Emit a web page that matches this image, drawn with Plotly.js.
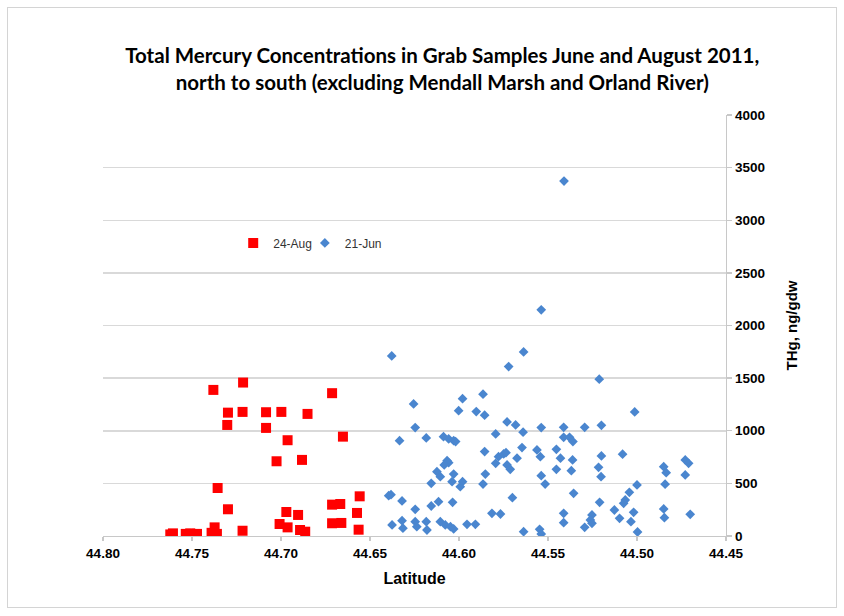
<!DOCTYPE html>
<html>
<head>
<meta charset="utf-8">
<script src="https://cdn.plot.ly/plotly-3.0.1.min.js"></script>
<style>
  html, body { margin: 0; padding: 0; background: #fff; }
  #wrap { position: relative; width: 844px; height: 616px; }
  #chart { width: 844px; height: 616px; }
  #frame { position: absolute; left: 7px; top: 7px; width: 828px; height: 599px; border: 1px solid #d4d4d4; pointer-events: none; }
</style>
</head>
<body>
<div id="wrap">
  <div id="chart"></div>
  <div id="frame"></div>
</div>
<script>
// 24-Aug samples (red squares)
const augLat = [44.738, 44.7213, 44.6713, 44.7298, 44.7216, 44.7084, 44.6998, 44.6851, 44.7302, 44.7084,
  44.6652, 44.6963, 44.7025, 44.6882, 44.7356, 44.6558, 44.6713, 44.6667, 44.7298, 44.6970,
  44.6904, 44.6573, 44.7008, 44.6963, 44.6713, 44.6661, 44.6893, 44.6864, 44.6564, 44.7216,
  44.7373, 44.7622, 44.7607, 44.7535, 44.7510, 44.7490, 44.7472, 44.7390, 44.7375, 44.7360];
const augTHg = [1388, 1458, 1357, 1172, 1179, 1176, 1179, 1160, 1055, 1027,
  944, 910, 710, 723, 456, 377, 298, 304, 254, 228,
  200, 219, 114, 82, 121, 124, 57, 41, 60, 50,
  82, 15, 25, 20, 25, 15, 20, 30, 15, 20];

// 21-Jun samples (blue diamonds)
const junLat = [44.5410, 44.5538, 44.6378, 44.5721, 44.5637, 44.6255, 44.5980, 44.5865, 44.6002, 44.5903,
  44.5856, 44.5730, 44.5682, 44.5640, 44.5538, 44.6246, 44.6334, 44.6184, 44.6087, 44.6058,
  44.6030, 44.6019, 44.5794, 44.5856, 44.5646, 44.5562, 44.5543, 44.5778, 44.5749, 44.5736,
  44.5794, 44.5730, 44.5712, 44.5674, 44.6067, 44.6058, 44.6083, 44.6124, 44.6105, 44.6030,
  44.6039, 44.5980, 44.5993, 44.6156, 44.5852, 44.5865, 44.5538, 44.5516, 44.6395, 44.6382,
  44.6320, 44.6246, 44.6156, 44.6115, 44.6036, 44.5700, 44.5815, 44.5767, 44.6376, 44.6320,
  44.6315, 44.6246, 44.6237, 44.6184, 44.6180, 44.6105, 44.6077, 44.6048, 44.6030, 44.5955,
  44.5908, 44.5637, 44.5547, 44.5538,
  44.5212, 44.5013, 44.5412, 44.5294, 44.5200, 44.5412, 44.5379, 44.5360, 44.5453, 44.5430,
  44.5362, 44.5200, 44.5081, 44.5453, 44.5369, 44.5216, 44.5202, 44.4850, 44.4836, 44.4842,
  44.4729, 44.4710, 44.4729, 44.5356, 44.5000, 44.5043, 44.5066, 44.5075, 44.5210, 44.5412,
  44.5412, 44.5253, 44.5262, 44.5253, 44.5294, 44.5127, 44.5098, 44.5019, 44.5034, 44.4997,
  44.4850, 44.4846, 44.4701];
const junTHg = [3372, 2149, 1711, 1610, 1749, 1255, 1305, 1347, 1191, 1182,
  1148, 1084, 1055, 986, 1030, 1030, 906, 932, 944, 922,
  906, 897, 970, 802, 840, 818, 754, 754, 780, 792,
  691, 675, 634, 739, 716, 697, 675, 611, 564, 589,
  516, 516, 469, 501, 589, 494, 573, 494, 383, 393,
  333, 254, 285, 326, 320, 364, 216, 209, 105, 145,
  74, 136, 88, 136, 57, 136, 105, 88, 67, 111,
  111, 41, 64, 19,
  1490, 1179, 1033, 1033, 1052, 938, 938, 897, 824, 739,
  723, 761, 777, 634, 621, 653, 564, 659, 602, 492,
  723, 691, 580, 406, 485, 415, 342, 311, 320, 216,
  127, 200, 152, 121, 83, 247, 168, 225, 136, 38,
  257, 174, 206];

const xTicks = [44.80, 44.75, 44.70, 44.65, 44.60, 44.55, 44.50, 44.45];
const xTickText = ['44.80', '44.75', '44.70', '44.65', '44.60', '44.55', '44.50', '44.45'];
const yTicks = [0, 500, 1000, 1500, 2000, 2500, 3000, 3500, 4000];

const traces = [
  {
    x: augLat, y: augTHg, name: '24-Aug', type: 'scatter', mode: 'markers',
    marker: { symbol: 'square', size: 10, color: '#FF0000' },
    legend: 'legend'
  },
  {
    x: junLat, y: junTHg, name: '21-Jun', type: 'scatter', mode: 'markers',
    marker: { symbol: 'diamond', size: 7.5, color: '#4A86CF' },
    legend: 'legend2'
  }
];

const tickFont = { family: 'Liberation Sans, Arial, sans-serif', size: 13.5, color: '#000', weight: 'bold' };
const legendFont = { family: 'Liberation Sans, Arial, sans-serif', size: 12, color: '#333' };

const layout = {
  width: 844, height: 616,
  paper_bgcolor: '#fff', plot_bgcolor: '#fff',
  margin: { l: 103, r: 118, t: 115, b: 80 },
  showlegend: true,
  title: {
    text: 'Total Mercury Concentrations in Grab Samples June and August 2011,<br>north to south (excluding Mendall Marsh and Orland River)',
    font: { family: 'Lato, Carlito, sans-serif', size: 20.5, color: '#000', weight: 'bold' },
    x: 0.524, xanchor: 'center', xref: 'container',
    y: 1 - 63 / 616, yanchor: 'top', yref: 'container'
  },
  xaxis: {
    range: [44.80, 44.45],
    tickmode: 'array', tickvals: xTicks, ticktext: xTickText,
    showgrid: false, zeroline: false,
    showline: true, linecolor: '#c8c8c8', linewidth: 1.3,
    ticks: 'outside', ticklen: 4, tickcolor: '#c8c8c8', tickwidth: 1.3,
    tickfont: tickFont,
    title: { text: 'Latitude', font: { family: 'Liberation Sans, Arial, sans-serif', size: 16, color: '#000', weight: 'bold' }, standoff: 13 }
  },
  yaxis: {
    side: 'right',
    range: [0, 4000],
    tickmode: 'array', tickvals: yTicks,
    showgrid: true, gridcolor: '#d9d9d9', gridwidth: 1.5,
    zeroline: false,
    showline: true, linecolor: '#c8c8c8', linewidth: 1.3,
    ticks: 'outside', ticklen: 5, tickcolor: '#c8c8c8', tickwidth: 1.3,
    tickfont: tickFont,
    title: { text: 'THg, ng/gdw', font: { family: 'Liberation Sans, Arial, sans-serif', size: 15, color: '#000', weight: 'bold' }, standoff: 22 }
  },
  legend: {
    orientation: 'h',
    x: 0.209, y: 0.696, xanchor: 'left', yanchor: 'middle',
    bgcolor: 'rgba(0,0,0,0)',
    font: legendFont,
    itemwidth: 30
  },
  legend2: {
    orientation: 'h',
    x: 0.324, y: 0.696, xanchor: 'left', yanchor: 'middle',
    bgcolor: 'rgba(0,0,0,0)',
    font: legendFont,
    itemwidth: 30
  }
};

Plotly.newPlot('chart', traces, layout, { displayModeBar: false, staticPlot: true });
</script>
</body>
</html>
